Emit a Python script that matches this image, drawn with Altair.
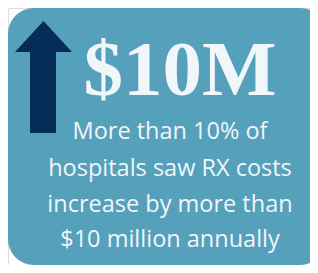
import altair as alt
import pandas as pd

# ---- content ----
headline = ["$10M"]
body_lines = [
    "More than 10% of",
    "hospitals saw RX costs",
    "increase by more than",
    "$10 million annually",
]

# ---- layout (page coordinates, px) ----
W, H = 318, 273          # window
M = 8                    # page margin
CW, CH = W - 2 * M, H - 2 * M   # chart fits exactly, no page overflow
box_x = [8, 326]
box_y = [8, 265]
arrow_head_x = [15, 43.5, 72]
arrow_head_y = [52, 21, 52]
arrow_shaft_x = [30, 56]
arrow_shaft_y = [51, 133]
headline_pos = (180, 95)
body_x = 170
body_baselines = [139, 176, 212, 247]

BOX = "#55A0BA"
NAVY = "#062D5A"
TEXT = "#F0F6F9"

xs = alt.Scale(domain=[M, M + CW], range=[0, CW], nice=False, zero=False)
ys = alt.Scale(domain=[M, M + CH], range=[0, CH], nice=False, zero=False)
noax = None

box_df = pd.DataFrame({"x": [box_x[0]], "x2": [box_x[1]], "y": [box_y[0]], "y2": [box_y[1]]})
box = alt.Chart(box_df).mark_rect(color=BOX, cornerRadius=26).encode(
    x=alt.X("x:Q", scale=xs, axis=noax), x2="x2:Q",
    y=alt.Y("y:Q", scale=ys, axis=noax), y2="y2:Q",
)

shaft_df = pd.DataFrame({"x": [arrow_shaft_x[0]], "x2": [arrow_shaft_x[1]],
                         "y": [arrow_shaft_y[0]], "y2": [arrow_shaft_y[1]]})
shaft = alt.Chart(shaft_df).mark_rect(color=NAVY).encode(
    x=alt.X("x:Q", scale=xs, axis=noax), x2="x2:Q",
    y=alt.Y("y:Q", scale=ys, axis=noax), y2="y2:Q",
)

head_df = pd.DataFrame({"x": arrow_head_x, "y": arrow_head_y, "y2": [arrow_head_y[0]] * 3})
head = alt.Chart(head_df).mark_area(color=NAVY, opacity=1).encode(
    x=alt.X("x:Q", scale=xs, axis=noax),
    y=alt.Y("y:Q", scale=ys, axis=noax), y2="y2:Q",
)

hl_df = pd.DataFrame({"t": headline, "x": [headline_pos[0]], "y": [headline_pos[1]]})
hl = alt.Chart(hl_df).mark_text(
    font="Liberation Serif", fontWeight="bold", fontSize=79, color=TEXT,
    align="center", baseline="alphabetic",
).encode(
    x=alt.X("x:Q", scale=xs, axis=noax), y=alt.Y("y:Q", scale=ys, axis=noax), text="t:N"
)

body_df = pd.DataFrame({"t": body_lines, "x": [body_x] * len(body_lines), "y": body_baselines})
body = alt.Chart(body_df).mark_text(
    font="Open Sans", fontSize=23.5, color=TEXT, align="center", baseline="alphabetic",
).encode(
    x=alt.X("x:Q", scale=xs, axis=noax), y=alt.Y("y:Q", scale=ys, axis=noax), text="t:N"
)

chart = alt.layer(box, shaft, head, hl, body).properties(
    width=CW, height=CH,
    autosize=alt.AutoSizeParams(type="none"),
    padding=0,
).configure_view(stroke=None).configure(background="white")

chart.save("out.html", embed_options={"renderer": "svg", "actions": False})
